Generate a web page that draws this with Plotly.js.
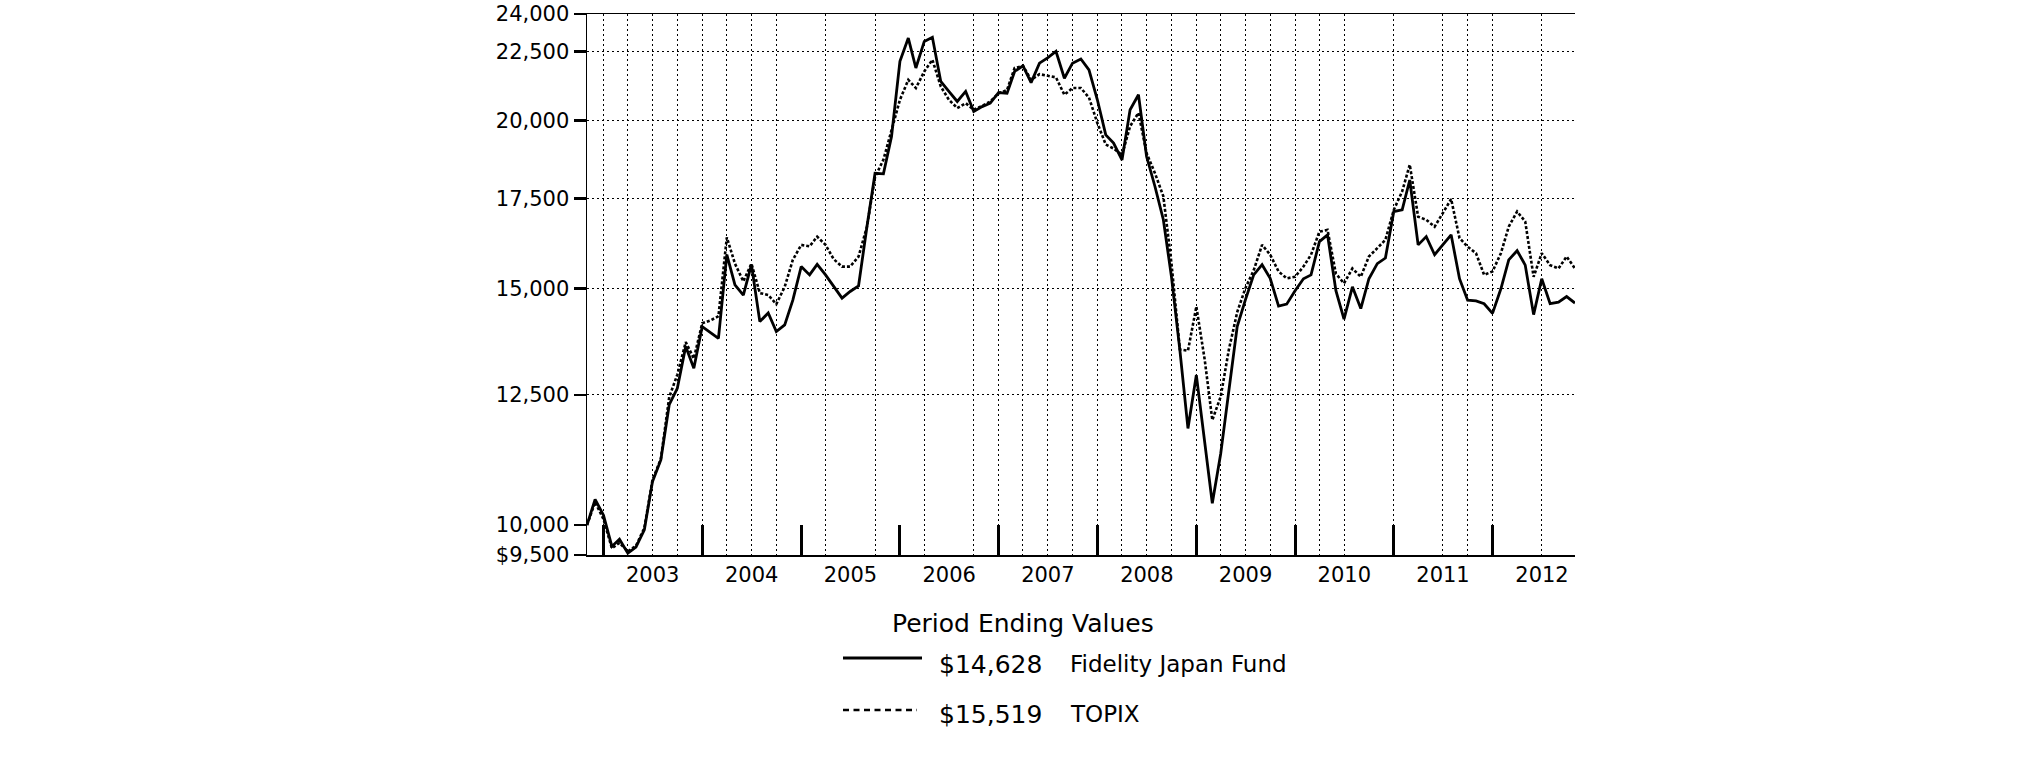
<!DOCTYPE html>
<html><head><meta charset="utf-8">
<script src="https://cdn.plot.ly/plotly-3.0.1.min.js"></script>
<style>html,body{margin:0;padding:0;background:#fff}#chart{width:2025px;height:761px}</style>
</head><body><div id="chart"></div>
<script>
// ---- data (monthly, period ending values, Oct 2002 - Oct 2012) ----
const startYear = 2002, startMonth = 10;   // first month-end: 2002-10-31
const fundValues = [
 10000,10450,10170,9640,9760,9530,9630,9920,10770,11180,12290,12640,
 13580,13080,14050,13900,13770,15890,15090,14830,15620,14170,14380,13930,
 14090,14700,15570,15350,15630,15350,15050,14750,14920,15060,16670,18270,
 18250,19460,22130,23030,21880,22900,23060,21380,21020,20660,21020,20310,
 20480,20600,20980,20950,21750,21960,21340,22060,22260,22510,21500,22060,
 22220,21810,20720,19510,19240,18690,20370,20900,18800,17860,16870,15300,
 13500,11800,12930,11540,10380,11300,12600,14050,14700,15350,15620,15260,
 14550,14600,14940,15250,15350,16250,16440,14940,14230,15040,14490,15250,
 15650,15800,17110,17160,18060,16160,16390,15890,16160,16440,15250,14700,
 14680,14610,14370,14990,15750,16000,15610,14340,15250,14610,14650,14790,
 14628];
const topixValues = [
 10000,10400,10100,9610,9700,9560,9650,9950,10800,11200,12450,12940,
 13680,13300,14130,14200,14300,16370,15650,15180,15650,14880,14830,14600,
 15040,15750,16160,16120,16390,16160,15770,15570,15570,15840,16670,18150,
 18700,19680,20720,21440,21140,21750,22190,21200,20720,20430,20600,20370,
 20500,20660,20950,21070,21880,21960,21440,21650,21590,21530,20900,21140,
 21140,20800,19910,19190,19060,18850,19800,20260,18910,18270,17560,15660,
 13510,13480,14540,13270,11970,12460,13500,14400,15000,15470,16160,15890,
 15440,15260,15300,15570,15890,16530,16580,15380,15130,15520,15300,15840,
 16070,16300,17160,17710,18540,16960,16870,16670,17060,17480,16350,16110,
 15930,15350,15440,15930,16670,17110,16820,15300,15930,15610,15520,15840,
 15519];
const seriesNames = ['Fidelity Japan Fund', 'TOPIX'];
const yearLabels = ['2003','2004','2005','2006','2007','2008','2009','2010','2011','2012'];
const yearLabelDates = ['2003-07-01','2004-07-01','2005-07-01','2006-07-01','2007-07-01',
                        '2008-07-01','2009-07-01','2010-07-01','2011-07-01','2012-07-01'];
const yearEndDates = ['2002-12-31','2003-12-31','2004-12-31','2005-12-31','2006-12-31',
                      '2007-12-31','2008-12-31','2009-12-31','2010-12-31','2011-12-31'];
const gridDates = ['2002-12-31','2003-03-31','2003-06-30','2003-09-30','2003-12-31',
  '2004-03-31','2004-06-30','2004-09-30','2005-03-31','2005-09-30','2006-03-31',
  '2006-09-30','2006-12-31','2007-03-31','2007-06-30','2007-09-30','2007-12-31',
  '2008-03-31','2008-06-30','2008-09-30','2008-12-31','2009-03-31','2009-06-30',
  '2009-09-30','2009-12-31','2010-03-31','2010-06-30','2010-12-31','2011-06-30',
  '2011-09-30','2011-12-31','2012-06-30'];
const yTickValues = [9500,10000,12500,15000,17500,20000,22500,24000];
const yTickLabels = ['$9,500','10,000','12,500','15,000','17,500','20,000','22,500','24,000'];
const yGridValues = [12500,15000,17500,20000,22500];
const xRange = ['2002-10-31','2012-10-31'];
const yRange = [9500, 24000];

// ---- build ----
function monthEnd(i){
  const d = new Date(Date.UTC(startYear, startMonth - 1 + i + 1, 0));
  return d.toISOString().slice(0,10);
}
const dates = fundValues.map((_, i) => monthEnd(i));
const FONT = 'DejaVu Sans, Arial, sans-serif';
const money = v => '$' + v.toLocaleString('en-US');
const yLogRange = yRange.map(v => Math.log10(v));
const L = 587, R = 1575, T = 14, B = 555;
const px = x => (x - L) / (R - L);
const py = y => (B - y) / (B - T);

const traces = [
  {x: [], y: [], xaxis: 'x2', yaxis: 'y2', mode: 'lines', showlegend: false, hoverinfo: 'skip'},
  {x: [], y: [], xaxis: 'x3', yaxis: 'y', mode: 'lines', showlegend: false, hoverinfo: 'skip'},
  {x: dates, y: topixValues, name: seriesNames[1], mode: 'lines',
   line: {color: '#000', width: 2.6, dash: '3px,2px'}},
  {x: dates, y: fundValues, name: seriesNames[0], mode: 'lines',
   line: {color: '#000', width: 2.8}}
];

const gridStyle = {showgrid: true, gridcolor: '#000', gridwidth: 1, griddash: '2px,3px'};

const layout = {
  width: 2025, height: 761,
  margin: {l: L, r: 2025 - R, t: T, b: 761 - B, pad: 0},
  paper_bgcolor: '#fff', plot_bgcolor: '#fff',
  showlegend: false,
  font: {family: FONT, color: '#000', size: 21},
  xaxis: {type: 'date', range: xRange, tickmode: 'array', tickvals: yearLabelDates,
    ticktext: yearLabels, ticks: '', showgrid: false, zeroline: false,
    showline: true, linecolor: '#000', linewidth: 1.5, mirror: true,
    tickfont: {family: FONT, size: 21, color: '#000'}, fixedrange: true},
  xaxis2: Object.assign({type: 'date', overlaying: 'x', anchor: 'y2', range: xRange,
    tickmode: 'array', tickvals: gridDates, showticklabels: false, ticks: '',
    showline: false, zeroline: false, fixedrange: true}, gridStyle),
  xaxis3: {type: 'date', overlaying: 'x', anchor: 'y', range: xRange,
    tickmode: 'array', tickvals: yearEndDates, showticklabels: false,
    ticks: 'inside', ticklen: 30, tickwidth: 3, tickcolor: '#000',
    showgrid: false, showline: false, zeroline: false, fixedrange: true},
  yaxis: {type: 'log', range: yLogRange, tickmode: 'array', tickvals: yTickValues,
    ticktext: yTickLabels, ticks: 'outside', ticklen: 12, tickwidth: 2.5, tickcolor: '#000',
    showgrid: false, zeroline: false, showline: true, linecolor: '#000', linewidth: 1.5,
    tickfont: {family: FONT, size: 21, color: '#000'}, fixedrange: true},
  yaxis2: Object.assign({type: 'log', overlaying: 'y', anchor: 'x2', range: yLogRange,
    tickmode: 'array', tickvals: yGridValues, showticklabels: false, ticks: '',
    showline: false, zeroline: false, fixedrange: true}, gridStyle),
  shapes: [
    {type: 'line', xref: 'paper', yref: 'paper', x0: px(843), x1: px(922), y0: py(658), y1: py(658),
     line: {color: '#000', width: 3}},
    {type: 'line', xref: 'paper', yref: 'paper', x0: px(843), x1: px(917), y0: py(710), y1: py(710),
     line: {color: '#000', width: 2.5, dash: '6px,4.5px'}}
  ],
  annotations: [
    {text: 'Period Ending Values', xref: 'paper', yref: 'paper', x: px(890), y: py(623),
     xanchor: 'left', yanchor: 'middle', showarrow: false, font: {family: FONT, size: 25, color: '#000'}},
    {text: money(fundValues[fundValues.length - 1]), xref: 'paper', yref: 'paper', x: px(937), y: py(664),
     xanchor: 'left', yanchor: 'middle', showarrow: false, font: {family: FONT, size: 25, color: '#000'}},
    {text: seriesNames[0], xref: 'paper', yref: 'paper', x: px(1068), y: py(664),
     xanchor: 'left', yanchor: 'middle', showarrow: false, font: {family: FONT, size: 23, color: '#000'}},
    {text: money(topixValues[topixValues.length - 1]), xref: 'paper', yref: 'paper', x: px(937), y: py(714),
     xanchor: 'left', yanchor: 'middle', showarrow: false, font: {family: FONT, size: 25, color: '#000'}},
    {text: seriesNames[1], xref: 'paper', yref: 'paper', x: px(1068), y: py(714),
     xanchor: 'left', yanchor: 'middle', showarrow: false, font: {family: FONT, size: 23, color: '#000'}}
  ]
};

Plotly.newPlot('chart', traces, layout, {staticPlot: true, displayModeBar: false});
</script>
</body></html>
